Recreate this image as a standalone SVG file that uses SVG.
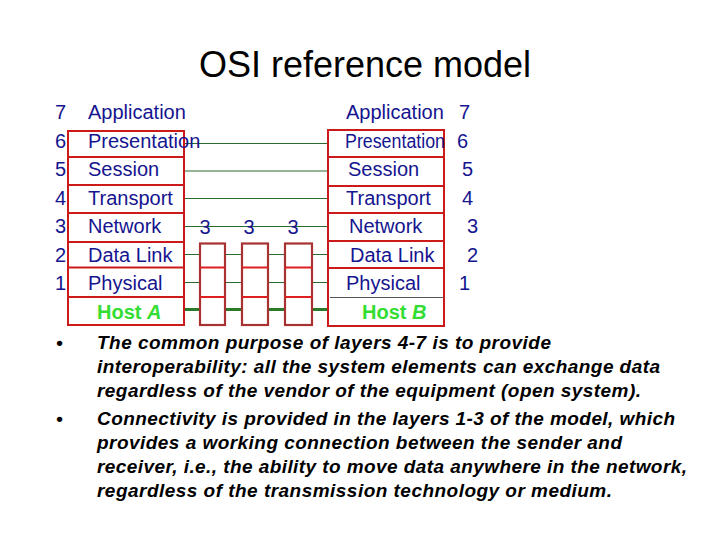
<svg xmlns="http://www.w3.org/2000/svg" width="720" height="540" viewBox="0 0 720 540">
<style>
.t{font-family:"Liberation Sans",Arial,sans-serif;}
.title{font-size:36px;fill:#000;}
.lbl{font-size:20px;fill:#15158f;}
.host{font-size:20px;font-weight:bold;fill:#33dd33;}
.bul{font-size:19px;font-weight:bold;font-style:italic;fill:#000;}
.box{fill:none;stroke:#cc1a1a;stroke-width:2;}
.rbox{fill:none;stroke:#a83232;stroke-width:2.2;}
.rdiv{stroke:#dd1f1f;stroke-width:2;}
.ln{stroke:#2a6a2a;stroke-width:1;}
.hl{stroke:#2a7a2a;stroke-width:3;}
</style>
<rect width="720" height="540" fill="#fff"/>
<text class="t title" x="365" y="77" text-anchor="middle">OSI reference model</text>

<g id="connectors">
<line class="ln" x1="184" y1="143.5" x2="328" y2="143.5"/>
<line class="ln" x1="184" y1="171" x2="328" y2="171"/>
<line class="ln" x1="184" y1="198.5" x2="328" y2="198.5"/>
<line class="ln" x1="184" y1="226.5" x2="328" y2="226.5"/>
<path class="ln" d="M184 254.5H200M225 254.5H242M268 254.5H285M312 254.5H328"/>
<path class="ln" d="M184 282.5H200M225 282.5H242M268 282.5H285M312 282.5H328"/>
<path class="hl" d="M184 309.5H200M225 309.5H242M268 309.5H285M312 309.5H328"/>
</g>

<g id="hostA">
<rect class="box" x="68" y="131" width="116" height="194"/>
<path class="box" d="M68 157H184M68 185H184M68 213H184M68 242H184M68 267.5H184M68 297H184"/>
<g class="t lbl">
<text x="55" y="119">7</text><text x="88" y="119">Application</text>
<text x="55" y="147.5">6</text><text x="88" y="147.5">Presentation</text>
<text x="55" y="176">5</text><text x="88" y="176">Session</text>
<text x="55" y="204.5">4</text><text x="88" y="204.5">Transport</text>
<text x="55" y="233">3</text><text x="88" y="233">Network</text>
<text x="55" y="261.5">2</text><text x="88" y="261.5">Data Link</text>
<text x="55" y="290">1</text><text x="88" y="290">Physical</text>
</g>
<text class="t host" x="97" y="319">Host <tspan font-style="italic">A</tspan></text>
</g>

<g id="router1">
<rect class="rbox" x="200" y="243.5" width="25" height="81.5"/>
<path class="rdiv" d="M200 267.5H225M200 297H225"/>
<text class="t lbl" x="205" y="234" text-anchor="middle">3</text>
</g>
<g id="router2">
<rect class="rbox" x="242" y="243.5" width="26" height="81.5"/>
<path class="rdiv" d="M242 267.5H268M242 297H268"/>
<text class="t lbl" x="249" y="234" text-anchor="middle">3</text>
</g>
<g id="router3">
<rect class="rbox" x="285" y="243.5" width="27" height="81.5"/>
<path class="rdiv" d="M285 267.5H312M285 297H312"/>
<text class="t lbl" x="293" y="234" text-anchor="middle">3</text>
</g>

<g id="hostB">
<rect class="box" x="328" y="130" width="116" height="196"/>
<path class="box" d="M328 157H445M328 186H444M328 213H444M328 241H444M328 268H444"/>
<line x1="330" y1="297.5" x2="444" y2="297.5" stroke="#555" stroke-width="1"/>
<g class="t lbl">
<text x="346" y="119">Application</text><text x="459" y="119">7</text>
<text x="345" y="147.5" textLength="100" lengthAdjust="spacingAndGlyphs">Presentation</text><text x="457" y="147.5">6</text>
<text x="348" y="176">Session</text><text x="462" y="176">5</text>
<text x="346" y="204.5">Transport</text><text x="462" y="204.5">4</text>
<text x="349" y="233">Network</text><text x="467" y="233">3</text>
<text x="350" y="261.5">Data Link</text><text x="467" y="261.5">2</text>
<text x="346" y="290">Physical</text><text x="459" y="290">1</text>
</g>
<text class="t host" x="362" y="319">Host <tspan font-style="italic">B</tspan></text>
</g>

<g id="bullets" class="t bul">
<text x="56" y="349">•</text>
<text x="97" y="349" textLength="454" lengthAdjust="spacing">The common purpose of layers 4-7 is to provide</text>
<text x="97" y="373" textLength="563" lengthAdjust="spacing">interoperability: all the system elements can exchange data</text>
<text x="97" y="397" textLength="544" lengthAdjust="spacing">regardless of the vendor of the equipment (open system).</text>
<text x="56" y="425">•</text>
<text x="97" y="425" textLength="578" lengthAdjust="spacing">Connectivity is provided in the layers 1-3 of the model, which</text>
<text x="97" y="449" textLength="525" lengthAdjust="spacing">provides a working connection between the sender and</text>
<text x="97" y="473" textLength="590" lengthAdjust="spacing">receiver, i.e., the ability to move data anywhere in the network,</text>
<text x="97" y="497" textLength="515" lengthAdjust="spacing">regardless of the transmission technology or medium.</text>
</g>
</svg>
